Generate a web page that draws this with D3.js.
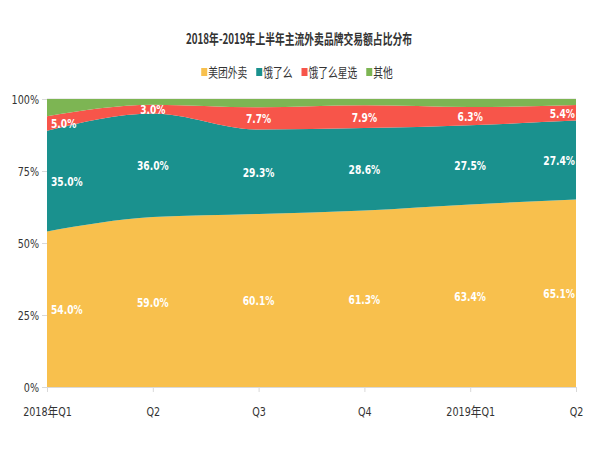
<!DOCTYPE html>
<html><head><meta charset="utf-8">
<script src="https://cdn.jsdelivr.net/npm/d3@7/dist/d3.min.js"></script>
<style>
body{margin:0;background:#fff;}
text{font-family:"Liberation Sans Narrow","DejaVu Sans Condensed","Noto Sans CJK SC",sans-serif;}
</style></head>
<body><svg id="c" width="600" height="450"></svg>
<script>
const title = "2018年-2019年上半年主流外卖品牌交易额占比分布";
const categories = ["2018年Q1","Q2","Q3","Q4","2019年Q1","Q2"];
const seriesNames = ["美团外卖","饿了么","饿了么星选","其他"];
const meituan = [54.0,59.0,60.1,61.3,63.4,65.1];
const eleme = [35.0,36.0,29.3,28.6,27.5,27.4];
const elemeXuan = [5.0,3.0,7.7,7.9,6.3,5.4];
const others = [6.0,2.0,2.9,2.2,2.8,2.1];
const yTicks = [0,25,50,75,100];
const colors = ["#F8C04D","#1A918E","#F7554A","#7DB553"];

const svg = d3.select("#c");
const L=47, R=576, T=99, B=387;
const rows = categories.map((c,i)=>({i, "美团外卖":meituan[i],"饿了么":eleme[i],"饿了么星选":elemeXuan[i],"其他":others[i]}));
const x = d3.scaleLinear().domain([0,categories.length-1]).range([L,R]);
const y = d3.scaleLinear().domain([0,100]).range([B,T]);
const stack = d3.stack().keys(seriesNames)(rows);

function condense(sel, f){
  sel.each(function(){
    const w = this.getComputedTextLength();
    d3.select(this).attr("textLength", w*f).attr("lengthAdjust","spacingAndGlyphs");
  });
}

svg.append("line").attr("x1",L).attr("x2",R).attr("y1",y(100)).attr("y2",y(100)).attr("stroke","#d9d9d9");

const area = d3.area().x(d=>x(d.data.i)).y0(d=>y(d[0])).y1(d=>y(d[1])).curve(d3.curveMonotoneX);
svg.selectAll("path.a").data(stack).join("path").attr("class","a")
  .attr("d",area).attr("fill",(d,i)=>colors[i]);

const xa = svg.append("g").attr("transform",`translate(0,${B})`)
  .call(d3.axisBottom(x).tickValues(d3.range(categories.length)).tickFormat(i=>categories[i]).tickSize(5).tickPadding(15));
xa.select(".domain").attr("stroke","#d9d9d9");
xa.selectAll(".tick line").attr("stroke","#d9d9d9");
xa.selectAll("text").attr("font-size",13).attr("fill","#333");
condense(xa.selectAll("text"), 0.82);

const ya = svg.append("g").attr("transform",`translate(${L},0)`)
  .call(d3.axisLeft(y).tickValues(yTicks).tickFormat(d=>d+"%").tickSize(5).tickPadding(3));
ya.select(".domain").remove();
ya.selectAll(".tick line").attr("stroke","#d9d9d9");
ya.selectAll("text").attr("font-size",13).attr("fill","#333");
condense(ya.selectAll("text"), 0.82);

const vals = [meituan,eleme,elemeXuan];
stack.slice(0,3).forEach((s,k)=>{
  s.forEach((d,i)=>{
    const n = categories.length;
    const t = svg.append("text")
      .attr("x", i===0 ? L+4 : (i===n-1 ? R-1 : x(i)))
      .attr("y", y((d[0]+d[1])/2))
      .attr("dy","0.38em")
      .attr("text-anchor", i===0 ? "start" : (i===n-1 ? "end" : "middle"))
      .attr("font-size",13).attr("font-weight","bold").attr("fill","#fff")
      .text(vals[k][i].toFixed(1)+"%");
    condense(t, 0.78);
  });
});

svg.append("text").attr("x",299).attr("y",44).attr("text-anchor","middle")
  .attr("font-size",14).attr("font-weight","bold").attr("fill","#333")
  .style("font-family","'Noto Sans CJK SC',sans-serif")
  .attr("textLength",226).attr("lengthAdjust","spacingAndGlyphs")
  .text(title);

const lg = svg.append("g");
let cx = 0;
seriesNames.forEach((n,i)=>{
  const g = lg.append("g").attr("transform",`translate(${cx},0)`);
  g.append("rect").attr("x",0).attr("y",-9).attr("width",6).attr("height",8).attr("fill",colors[i]);
  const t = g.append("text").attr("x",7).attr("y",0).attr("font-size",13).attr("fill","#333")
    .style("font-family","'Noto Sans CJK SC',sans-serif").text(n);
  const w = t.node().getComputedTextLength()*0.75;
  t.attr("textLength",w).attr("lengthAdjust","spacingAndGlyphs");
  cx += 7 + w + 9;
});
const totalW = cx - 9;
lg.attr("transform",`translate(${297-totalW/2},77)`);
</script></body></html>
